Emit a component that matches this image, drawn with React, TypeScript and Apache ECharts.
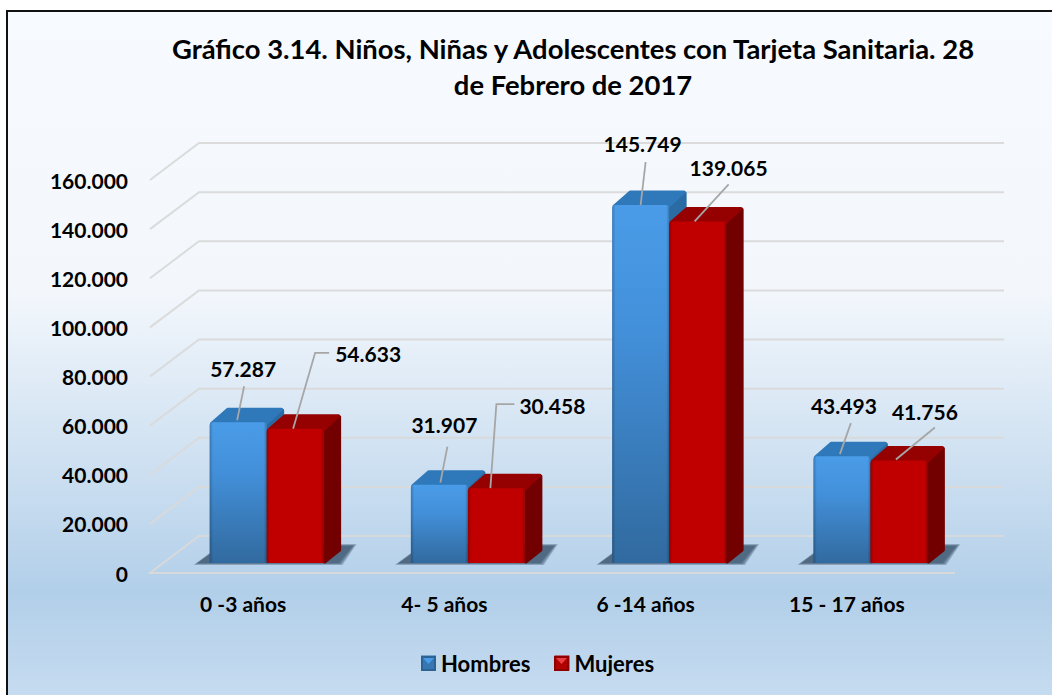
import React, { useEffect, useRef } from "react";
import * as echarts from "echarts";

const titleText = "Gráfico 3.14. Niños, Niñas y Adolescentes con Tarjeta Sanitaria. 28\nde Febrero de 2017";
const categories = ["0 -3 años", "4- 5 años", "6 -14 años", "15 - 17 años"];
const hombres = [57287, 31907, 145749, 43493];
const mujeres = [54633, 30458, 139065, 41756];
const gridValues = [0, 20000, 40000, 60000, 80000, 100000, 120000, 140000, 160000];

// Layout (px): leader line points and label centres relative to each bar's top-centre
const hombresLeaders = [
  { line: [[-1, -2], [6, -36]], text: [5, -54] },
  { line: [[1, -2], [8, -38]], text: [5, -60] },
  { line: [[0, 0], [5, -43]], text: [2, -62] },
  { line: [[-2, -2], [9, -33]], text: [2, -51] },
];
const mujeresLeaders = [
  { line: [[-2, 0], [20, -76], [34, -76]], text: [73, -75] },
  { line: [[-6, 0], [0, -84], [18, -84]], text: [56, -83] },
  { line: [[-3, 0], [31, -37]], text: [31, -54] },
  { line: [[-3, -1], [36, -33]], text: [26, -49] },
];

const FONT = "Lato, 'Noto Sans', sans-serif";
const LABEL_SIZE = 21;
const DEPTH_X = 49;
const DEPTH_Y = 37;
const BAR_W = 57;
const BAR_DX = 17;
const BAR_DY = 14;
const BASE_Y = 10;

const fmt = (v: number) => String(v).replace(/\B(?=(\d{3})+(?!\d))/g, ".");
const LG = echarts.graphic.LinearGradient;

const palette = {
  blue: {
    front: new LG(0, 0, 0, 1, [
      { offset: 0, color: "#4A9CE8" },
      { offset: 0.35, color: "#4390DA" },
      { offset: 1, color: "#316A9F" },
    ]),
    top: "#2F78B9",
    side: "#2A6BA3",
  },
  red: {
    front: "#C00000",
    top: "#950000",
    side: "#720000",
  },
};

function barSeries(name: string, values: number[], barOffset: number, colors: any, leaders: any[], legendColor: string) {
  return {
    type: "custom",
    name,
    z: 3,
    itemStyle: { color: legendColor },
    encode: { x: 0, y: 1 },
    data: values.map((v, i) => [i, v]),
    renderItem: (params: any, api: any) => {
      const i = api.value(0);
      const v = api.value(1);
      const topPt = api.coord([i, v]);
      const basePt = api.coord([i, 0]);
      const x = topPt[0] + barOffset;
      const y = topPt[1] - BASE_Y;
      const b = basePt[1] - BASE_Y;
      const leader = leaders[params.dataIndex];
      const cx = x + BAR_W / 2;
      const sharp = (st: any) => ({ ...st, stroke: st.fill, lineWidth: 3, lineJoin: "round" });
      return {
        type: "group",
        children: [
          {
            type: "polygon",
            z2: 1,
            shape: {
              points: [
                [x + BAR_W + 1, y + 1],
                [x + BAR_W + BAR_DX - 1, y - BAR_DY + 2],
                [x + BAR_W + BAR_DX - 1, b - BAR_DY + 1],
                [x + BAR_W + 1, b - 1],
              ],
            },
            style: sharp({ fill: colors.side }),
          },
          {
            type: "polygon",
            z2: 2,
            shape: {
              points: [
                [x + BAR_DX + 1, y - BAR_DY + 1],
                [x + BAR_W + BAR_DX - 2, y - BAR_DY + 1],
                [x + BAR_W, y + 1],
                [x + 2, y + 1],
              ],
            },
            style: sharp({ fill: colors.top }),
          },
          {
            type: "rect",
            z2: 3,
            shape: { x, y, width: BAR_W, height: b - y, r: [3, 3, 1, 1] },
            style: { fill: colors.front },
          },
          {
            type: "rect",
            z2: 4,
            shape: { x, y, width: BAR_W, height: b - y, r: [3, 3, 1, 1] },
            style: {
              fill: new LG(1, 0, 0, 0, [
                { offset: 0, color: "rgba(0,0,0,0.22)" },
                { offset: 0.05, color: "rgba(0,0,0,0)" },
                { offset: 0.94, color: "rgba(0,0,0,0)" },
                { offset: 1, color: "rgba(0,0,0,0.22)" },
              ]),
            },
          },
          {
            type: "polyline",
            shape: { points: leader.line.map((p: number[]) => [cx + p[0], y + p[1]]) },
            style: { stroke: "#A6A6A6", lineWidth: 1.8, fill: "none" },
            z2: 20,
          },
          {
            type: "text",
            z2: 21,
            style: {
              x: cx + leader.text[0],
              y: y + leader.text[1],
              text: fmt(v),
              align: "center",
              verticalAlign: "middle",
              fill: "#000",
              font: `bold ${LABEL_SIZE}px ${FONT}`,
            },
          },
        ],
      };
    },
  };
}

export default function App() {
  const ref = useRef<HTMLDivElement>(null);
  useEffect(() => {
    document.body.style.margin = "0";
    document.body.style.background = "#fff";
    const chart = echarts.init(ref.current!, undefined, { renderer: "svg" });
    const key = (x: number, dark: string, mid: string, lite: string) => [
      { type: "rect", z: 50, shape: { x, y: 656, width: 15, height: 15 }, style: { fill: dark } },
      { type: "rect", z: 51, shape: { x: x + 2, y: 658, width: 11, height: 11 }, style: { fill: mid } },
      { type: "polygon", z: 52, shape: { points: [[x + 2, 658], [x + 13, 658], [x + 7.5, 664]] }, style: { fill: lite } },
    ];
    chart.setOption({
      animation: false,
      backgroundColor: "#fff",
      title: {
        text: titleText,
        left: 568,
        top: 25,
        textAlign: "center",
        textStyle: {
          fontFamily: FONT,
          fontWeight: "bold",
          fontSize: 27.4,
          lineHeight: 36,
          color: "#000",
        },
      },
      legend: {
        data: ["Hombres", "Mujeres"],
        left: 421,
        top: 652,
        padding: 0,
        itemWidth: 15,
        itemHeight: 15,
        itemGap: 24,
        icon: "rect",
        textStyle: {
          fontFamily: FONT,
          fontWeight: "bold",
          fontSize: 22,
          color: "#000",
        },
        itemStyle: { borderWidth: 0 },
        selectedMode: false,
      },
      grid: { left: 150, right: 97, top: 180, bottom: 122 },
      xAxis: {
        type: "category",
        data: categories,
        axisLine: { show: false },
        axisTick: { show: false },
        splitLine: { show: false },
        axisLabel: {
          margin: 20,
          padding: [0, 15, 0, 0],
          fontFamily: FONT,
          fontWeight: "bold",
          fontSize: LABEL_SIZE,
          color: "#000",
        },
      },
      yAxis: {
        type: "value",
        min: 0,
        max: 160000,
        interval: 20000,
        axisLine: { show: false },
        axisTick: { show: false },
        splitLine: { show: false },
        axisLabel: {
          margin: 22,
          formatter: (v: number) => fmt(v),
          fontFamily: FONT,
          fontWeight: "bold",
          fontSize: LABEL_SIZE,
          color: "#000",
        },
      },
      graphic: {
        elements: [
          {
            type: "rect",
            z: -10,
            silent: true,
            shape: { x: 7, y: 11, width: 1060, height: 700 },
            style: {
              stroke: "#111",
              lineWidth: 2,
              fill: new LG(0, 0, 0, 1, [
                { offset: 0, color: "#F7FAFE" },
                { offset: 0.4, color: "#F3F7FC" },
                { offset: 0.83, color: "#B2CFE9" },
                { offset: 1, color: "#C8DDF1" },
              ]),
            },
          },
          ...key(421, "#2C6394", "#3677B3", "#4A9CE8"),
          ...key(554, "#8E0000", "#B00000", "#E84040"),
        ],
      },
      series: [
        {
          type: "custom",
          name: "grid",
          z: 1,
          silent: true,
          encode: { y: 0 },
          data: gridValues.map((v) => [v]),
          renderItem: (_p: any, api: any) => {
            const v = api.value(0);
            const p = api.coord([0, v]);
            const s = _p.coordSys;
            const x0 = s.x;
            const y = p[1];
            return {
              type: "polyline",
              shape: {
                points: [
                  ...(v === 0 ? [[x0 + s.width, y]] : []),
                  [x0, y],
                  [x0 + DEPTH_X, y - DEPTH_Y],
                  [x0 + DEPTH_X + s.width, y - DEPTH_Y],
                ],
              },
              style: { stroke: "rgba(217,217,217,0.95)", lineWidth: 2, fill: "none" },
            };
          },
        },
        {
          type: "custom",
          name: "shadow",
          z: 2,
          silent: true,
          encode: { x: 0, y: 1 },
          data: hombres.map((_, i) => [i, 0]),
          renderItem: (_p: any, api: any) => {
            const p = api.coord([api.value(0), 0]);
            const L = p[0] - 41;
            const R = L + 2 * BAR_W;
            const y = p[1] - BASE_Y;
            const layers = [4, 3, 2, 1, 0];
            return {
              type: "group",
              children: layers.map((g, k) => ({
                type: "polygon",
                z2: k,
                shape: {
                  points: [
                    [L - 12 - g, y + g / 2],
                    [R + 15 + g, y + g / 2],
                    [R + 29 + g, y - 17 - g / 2],
                    [L + 12, y - 17 - g / 2],
                  ],
                },
                style: { fill: "rgba(48,70,95,0.24)" },
              })),
            };
          },
        },
        barSeries("Hombres", hombres, -41, palette.blue, hombresLeaders, "#2F6EA8"),
        barSeries("Mujeres", mujeres, -41 + BAR_W, palette.red, mujeresLeaders, "#A80000"),
      ],
    });
    return () => chart.dispose();
  }, []);
  return <div ref={ref} style={{ width: 1052, height: 695 }} />;
}
